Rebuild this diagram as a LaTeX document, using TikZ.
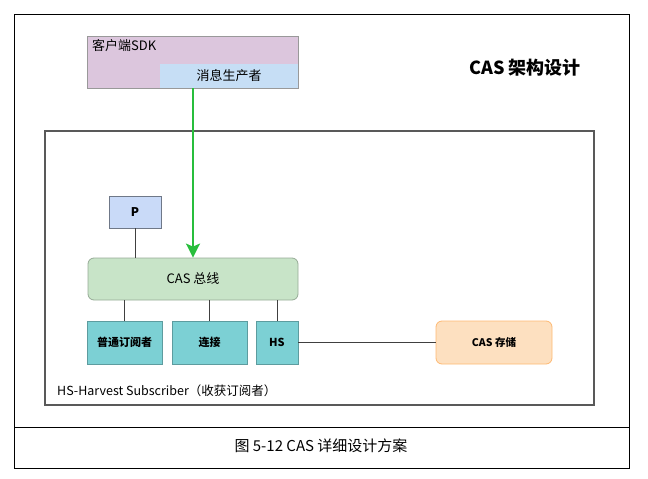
\documentclass[tikz,border=0pt]{standalone}
\usepackage{fontspec}
\setmainfont{Noto Sans CJK SC}
\usepackage{tikz}
\usetikzlibrary{positioning, arrows.meta}
\newcommand{\fs}[1]{\fontsize{#1}{#1}\selectfont}
\definecolor{sdkpink}{RGB}{220,198,221}
\definecolor{prodblue}{RGB}{198,222,245}
\definecolor{pblue}{RGB}{201,218,248}
\definecolor{busgreen}{RGB}{200,228,200}
\definecolor{subcyan}{RGB}{124,208,212}
\definecolor{storeorange}{RGB}{253,224,192}
\definecolor{arrowgreen}{RGB}{40,190,60}
\tikzstyle{rahmen} = [draw=black!65, line width=1.2pt]
\tikzstyle{pbox} = [draw=black!45!pblue, fill=pblue, line width=0.8pt, minimum width=52pt, minimum height=32pt, font=\bfseries\fs{12}]
\tikzstyle{bus} = [draw=black!25!busgreen, fill=busgreen, rounded corners=6pt, line width=0.8pt, minimum width=210pt, minimum height=42pt, font=\fs{13}]
\tikzstyle{subbox} = [draw=black!25!subcyan, fill=subcyan, line width=0.8pt, minimum height=43pt, font=\bfseries\fs{11}]
\tikzstyle{store} = [draw=orange!40!storeorange, fill=storeorange, rounded corners=6pt, line width=0.8pt, minimum width=116pt, minimum height=43pt, font=\bfseries\fs{10.5}]
\tikzstyle{link} = [draw=black!75, line width=1pt]
\tikzstyle{arrow} = [-{Stealth[length=14pt,width=14pt,inset=3pt]}]

\begin{document}
\begin{tikzpicture}[x=1pt, y=-1pt]
    \useasboundingbox (0,0) rectangle (648,479);

    % outer frame and caption
    \draw[line width=0.8pt] (14,14) rectangle (629,468);
    \draw[line width=0.8pt] (14,427) -- (629,427);
    \node (cap) at (321,446) {\fs{15}图 5-12 CAS 详细设计方案};

    % client side
    \node [draw=black!40, fill=sdkpink, line width=0.8pt, minimum width=211pt, minimum height=52pt] (sdk) at (192.5,62) {};
    \node [anchor=north west, inner sep=0pt, font=\fs{13}] (sdklabel) at (92,39) {客户端SDK};
    \node [fill=prodblue, minimum width=138pt, minimum height=24pt, inner sep=0pt, font=\fs{13}] (prod) at (229,76) {消息生产者};
    \node [font=\bfseries\fs{18}] (title) at (525,68) {CAS 架构设计};

    % inner frame
    \draw[rahmen] (45,131) rectangle (594,405);

    \node [pbox] (p) at (135,212) {P};
    \node [bus] (cas) at (193,279) {CAS 总线};

    \node [subbox, minimum width=75pt] (sub) at (124.5,342.5) {普通订阅者};
    \node [subbox, minimum width=75pt] (conn) at (209.5,342.5) {连接};
    \node [subbox, minimum width=42pt] (hs) at (277,342.5) {HS};
    \node [store] (st) at (494,342.5) {CAS 存储};

    \node [anchor=west, inner sep=0pt, font=\fs{12.5}] (note) at (57,391) {HS-Harvest Subscriber（收获订阅者）};

    \draw[arrow, draw=arrowgreen, fill=arrowgreen, line width=2pt] (cas.north |- prod.south) -- (cas.north);

    \draw[link] (p.south) -- (p.south |- cas.north);
    \draw[link] (sub.north |- cas.south) -- (sub.north);
    \draw[link] (conn.north |- cas.south) -- (conn.north);
    \draw[link] (hs.north |- cas.south) -- (hs.north);
    \draw[link] (hs.east) -- (st.west);

\end{tikzpicture}
\end{document}
